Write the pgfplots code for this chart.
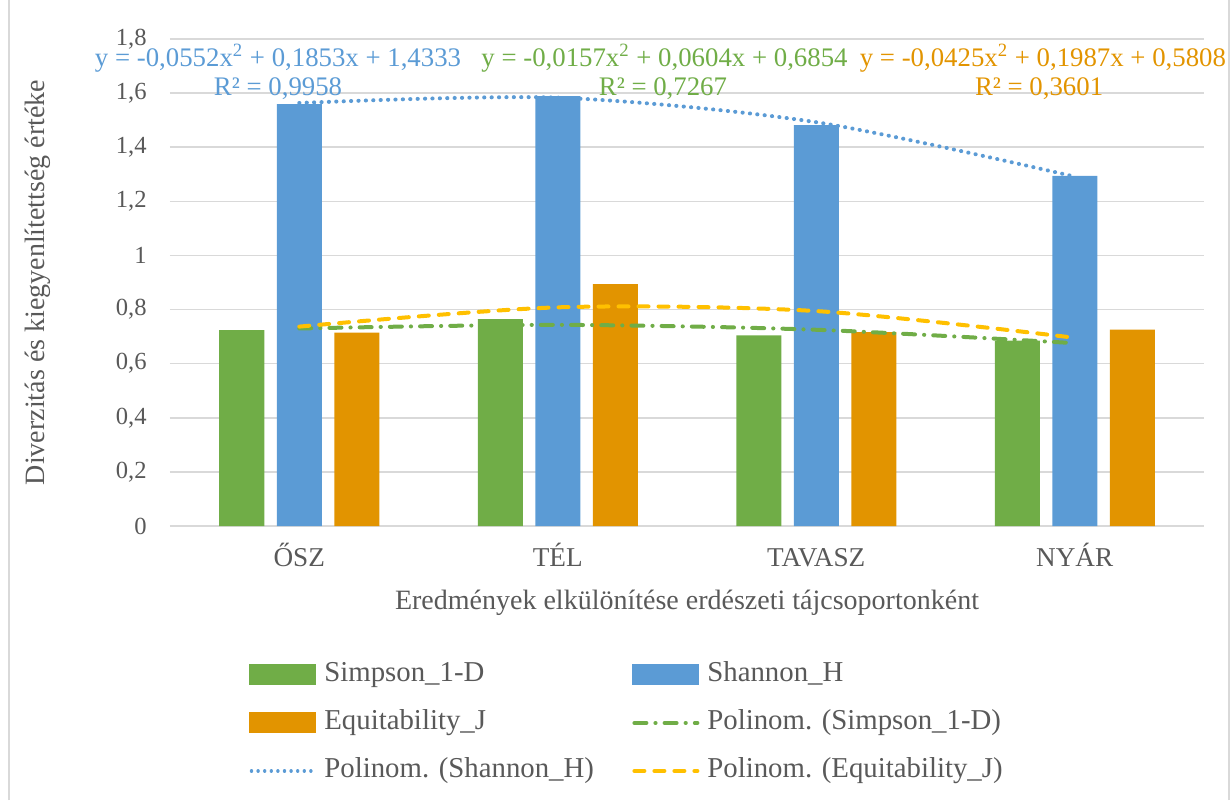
\documentclass[border=0pt]{standalone}
\usepackage{fontspec}
\setmainfont{Liberation Serif}
\usepackage{pgfplots}
\pgfplotsset{compat=1.18}
\definecolor{cgreen}{HTML}{70AD47}
\definecolor{cblue}{HTML}{5B9BD5}
\definecolor{corange}{HTML}{E29400}
\definecolor{cyellow}{HTML}{FFC000}
\definecolor{ctext}{HTML}{595959}
\definecolor{cgrid}{HTML}{D9D9D9}
\newcommand{\eqfont}{\fontsize{13.4}{15}\selectfont}
\begin{document}
\begin{tikzpicture}
\useasboundingbox (0,0) rectangle (615.5pt,400pt);
\draw[cgrid, line width=1pt] (4.5pt,0) -- (4.5pt,400pt);
\draw[cgrid, line width=1pt] (614.5pt,0) -- (614.5pt,400pt);
\begin{axis}[
  at={(85pt,137pt)}, anchor=south west,
  scale only axis, width=517pt, height=243.5pt,
  xmin=-0.5, xmax=3.5, ymin=0, ymax=1.8,
  xtick={0,1,2,3}, xticklabels={ŐSZ,TÉL,TAVASZ,NYÁR},
  ytick={0,0.2,0.4,0.6,0.8,1,1.2,1.4,1.6,1.8},
  ymajorgrids, grid style={cgrid, line width=0.75pt},
  axis line style={draw=none},
  major tick length=0pt,
  tick label style={text=ctext},
  /pgf/number format/use comma,
  /pgf/number format/assume math mode=true,
  yticklabel style={anchor=east, inner sep=0pt, xshift=-11.5pt, font=\fontsize{12.3}{14}\selectfont},
  xticklabel style={anchor=base, inner sep=0pt, yshift=-20.3pt, font=\fontsize{13.6}{16}\selectfont},
  label style={font=\fontsize{14}{16}\selectfont, text=ctext},
  xlabel={Eredmények elkülönítése erdészeti tájcsoportonként},
  xlabel style={at={(axis description cs:0.5,-0.158)}, anchor=center},
  ylabel={Diverzitás és kiegyenlítettség értéke},
  ylabel style={at={(axis description cs:-0.1277,0.5)}, anchor=center},
  clip=false,
  legend columns=2,
  legend style={at={(axis description cs:0.0764,-0.2784)}, anchor=north west,
    draw=none, fill=none, inner sep=0pt, row sep=11pt, text=ctext,
    font=\fontsize{14.4}{16}\selectfont,
    nodes={inner sep=0pt, text height=10pt, text depth=3pt},
    /tikz/every odd column/.append style={column sep=4pt}},
  legend cell align=left,
]
\addplot[ybar, bar width=22.5pt, bar shift=-28.75pt, fill=cgreen, draw=none,
  legend image code/.code={\fill[cgreen] (0pt,-5.25pt) rectangle (33.5pt,5.25pt);}]
  coordinates {(0,0.724) (1,0.765) (2,0.705) (3,0.685)};
\addlegendentry{\makebox[154pt][l]{Simpson\_1-D}}
\addplot[ybar, bar width=22.5pt, bar shift=0pt, fill=cblue, draw=none,
  legend image code/.code={\fill[cblue] (0pt,-5.25pt) rectangle (33.5pt,5.25pt);}]
  coordinates {(0,1.559) (1,1.589) (2,1.482) (3,1.294)};
\addlegendentry{Shannon\_H}
\addplot[ybar, bar width=22.5pt, bar shift=28.75pt, fill=corange, draw=none,
  legend image code/.code={\fill[corange] (0pt,-5.25pt) rectangle (33.5pt,5.25pt);}]
  coordinates {(0,0.715) (1,0.894) (2,0.717) (3,0.726)};
\addlegendentry{\makebox[154pt][l]{Equitability\_J}}
\addplot[smooth, cgreen, line width=2pt, line cap=round, dash pattern=on 6pt off 4.5pt on 0.1pt off 4.5pt,
  legend image code/.code={\draw[cgreen, line width=2pt, line cap=round, dash pattern=on 6pt off 4.5pt on 0.1pt off 4.5pt] (1pt,0pt) -- (32.5pt,0pt);}]
  coordinates {(0,0.7301) (1,0.7434) (2,0.7253) (3,0.6758)};
\addlegendentry{Polinom. (Simpson\_1-D)}
\addplot[smooth, cblue, line width=2pt, line cap=round, dash pattern=on 0.1pt off 3.6pt,
  legend image code/.code={\draw[cblue, line width=1.6pt, line cap=round, dash pattern=on 0.1pt off 3.2pt] (1pt,0pt) -- (32.5pt,0pt);}]
  coordinates {(0,1.5634) (1,1.5831) (2,1.4924) (3,1.2913)};
\addlegendentry{\makebox[154pt][l]{Polinom. (Shannon\_H)}}
\addplot[smooth, cyellow, line width=2pt, line cap=round, dash pattern=on 5pt off 5pt,
  legend image code/.code={\draw[cyellow, line width=2pt, line cap=round, dash pattern=on 5pt off 5pt] (1pt,0pt) -- (32.5pt,0pt);}]
  coordinates {(0,0.7370) (1,0.8082) (2,0.7944) (3,0.6956)};
\addlegendentry{Polinom. (Equitability\_J)}
\node[text=cblue, anchor=base, inner sep=0pt, font=\eqfont] at (axis cs:-0.082,1.698) {y = -0,0552x\textsuperscript{2} + 0,1853x + 1,4333};
\node[text=cblue, anchor=base, inner sep=0pt, font=\eqfont] at (axis cs:-0.082,1.590) {R² = 0,9958};
\node[text=cgreen, anchor=base, inner sep=0pt, font=\eqfont] at (axis cs:1.413,1.698) {y = -0,0157x\textsuperscript{2} + 0,0604x + 0,6854};
\node[text=cgreen, anchor=base, inner sep=0pt, font=\eqfont] at (axis cs:1.407,1.590) {R² = 0,7267};
\node[text=corange, anchor=base, inner sep=0pt, font=\eqfont] at (axis cs:2.877,1.698) {y = -0,0425x\textsuperscript{2} + 0,1987x + 0,5808};
\node[text=corange, anchor=base, inner sep=0pt, font=\eqfont] at (axis cs:2.862,1.590) {R² = 0,3601};
\end{axis}
\end{tikzpicture}
\end{document}
